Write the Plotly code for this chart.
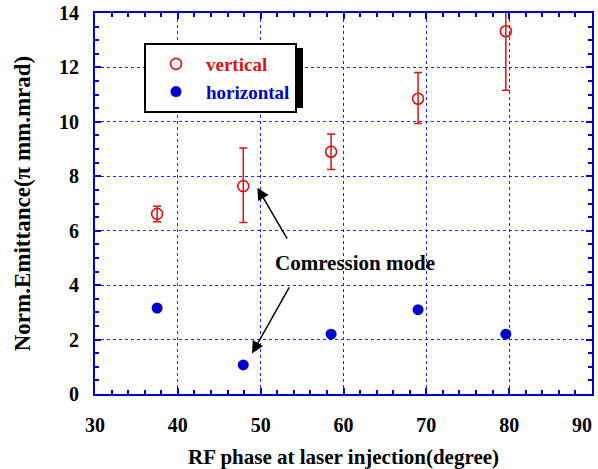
import plotly.graph_objects as go

phase = [37.5, 47.9, 58.5, 69.0, 79.6]
vertical = [6.62, 7.64, 8.90, 10.85, 13.33]
vert_err_plus = [0.28, 1.40, 0.65, 0.96, 2.2]
vert_err_minus = [0.29, 1.34, 0.65, 0.91, 2.17]
horizontal = [3.16, 1.07, 2.20, 3.10, 2.20]
horiz_err = [0.05, 0.08, 0.12, 0.12, 0.05]

x_tickvals = [30, 40, 50, 60, 70, 80, 90]
x_ticktext = ["30", "40", "50", "60", "70", "80", ""]
last_x_label = "90"

RED = "#e01010"
BLUE = "#0000cc"
GRID = "#2020ff"
FONT = "Liberation Serif"

fig = go.Figure()
fig.add_trace(go.Scatter(
    x=phase, y=vertical, mode="markers", name="<span style='color:%s'>vertical</span>" % RED,
    legendgroup="v",
    marker=dict(symbol="circle-open", size=11, color=RED, line=dict(width=1.6, color=RED)),
    error_y=dict(type="data", array=vert_err_plus, arrayminus=vert_err_minus,
                 color=RED, thickness=1.5, width=4),
))
fig.add_trace(go.Scatter(
    x=phase, y=horizontal, mode="markers", name="<span style='color:%s'>horizontal</span>" % BLUE,
    legendgroup="h",
    marker=dict(symbol="circle", size=11, color=BLUE),
    error_y=dict(type="data", array=horiz_err, color=BLUE, thickness=1.5, width=3),
))

TICKFONT = dict(family=FONT, size=20, color="black", weight="bold")
axis_common = dict(
    showline=True, linecolor=BLUE, linewidth=2, mirror="allticks",
    ticks="inside", tickcolor=BLUE, ticklen=6, tickwidth=1.5,
    showgrid=True, gridcolor=GRID, griddash="dot", gridwidth=1.2,
    zeroline=False, automargin=False,
    tickfont=TICKFONT,
)

fig.update_xaxes(range=[30, 90], tickmode="array", tickvals=x_tickvals, ticktext=x_ticktext,
                 ticklabelstandoff=12,
                 minor=dict(dtick=2, tick0=30, ticks="inside", ticklen=4, tickcolor=BLUE, showgrid=False),
                 title_text="RF phase at laser injection(degree)", title_standoff=14,
                 title_font=dict(family=FONT, size=21, color="black", weight="bold"),
                 **axis_common)
fig.update_yaxes(range=[0, 14], dtick=2, tick0=0, ticklabelstandoff=10,
                 minor=dict(dtick=0.5, ticks="inside", ticklen=4, tickcolor=BLUE, showgrid=False),
                 title_text="Norm.Emittance(π mm.mrad)", title_standoff=22,
                 title_font=dict(family=FONT, size=23, color="black", weight="bold"),
                 **axis_common)

# last x tick label, nudged inside the figure as in the reference
fig.add_annotation(x=x_tickvals[-1], xref="x", y=0, yref="paper", text=last_x_label,
                   showarrow=False, xanchor="right", yanchor="middle", xshift=2, yshift=-31,
                   font=TICKFONT)

# arrows
fig.add_annotation(x=49.6, y=7.58, ax=53.3, ay=5.65, xref="x", yref="y", axref="x", ayref="y",
                   text="", showarrow=True, arrowhead=2, arrowsize=1.6, arrowwidth=1.5, arrowcolor="black")
fig.add_annotation(x=48.96, y=1.49, ax=53.55, ay=3.97, xref="x", yref="y", axref="x", ayref="y",
                   text="", showarrow=True, arrowhead=2, arrowsize=1.6, arrowwidth=1.5, arrowcolor="black")
fig.add_annotation(x=61.4, y=4.8, xref="x", yref="y", text="Comression mode", showarrow=False,
                   font=dict(family=FONT, size=21, color="black", weight="bold"))

L, R, T, B = 95, 6, 13, 75
W, H = 598, 469
pw, ph = W - L - R, H - T - B

def px2paper_x(p):
    return (p - L) / pw

def px2paper_y(p):
    return (H - B - p) / ph

# legend shadow
fig.add_shape(type="rect", xref="paper", yref="paper",
              x0=px2paper_x(149), x1=px2paper_x(303), y0=px2paper_y(108), y1=px2paper_y(48),
              fillcolor="black", line=dict(width=0), layer="above")

fig.update_layout(
    width=W, height=H,
    margin=dict(l=L, r=R, t=T, b=B, autoexpand=False),
    plot_bgcolor="white", paper_bgcolor="white",
    showlegend=True,
    legend=dict(x=px2paper_x(144), y=px2paper_y(43), xanchor="left", yanchor="top",
                bgcolor="white", bordercolor="black", borderwidth=2,
                font=dict(family=FONT, size=19, weight="bold"),
                itemwidth=50, traceorder="grouped", tracegroupgap=0),
)

fig.write_html("out.html")
